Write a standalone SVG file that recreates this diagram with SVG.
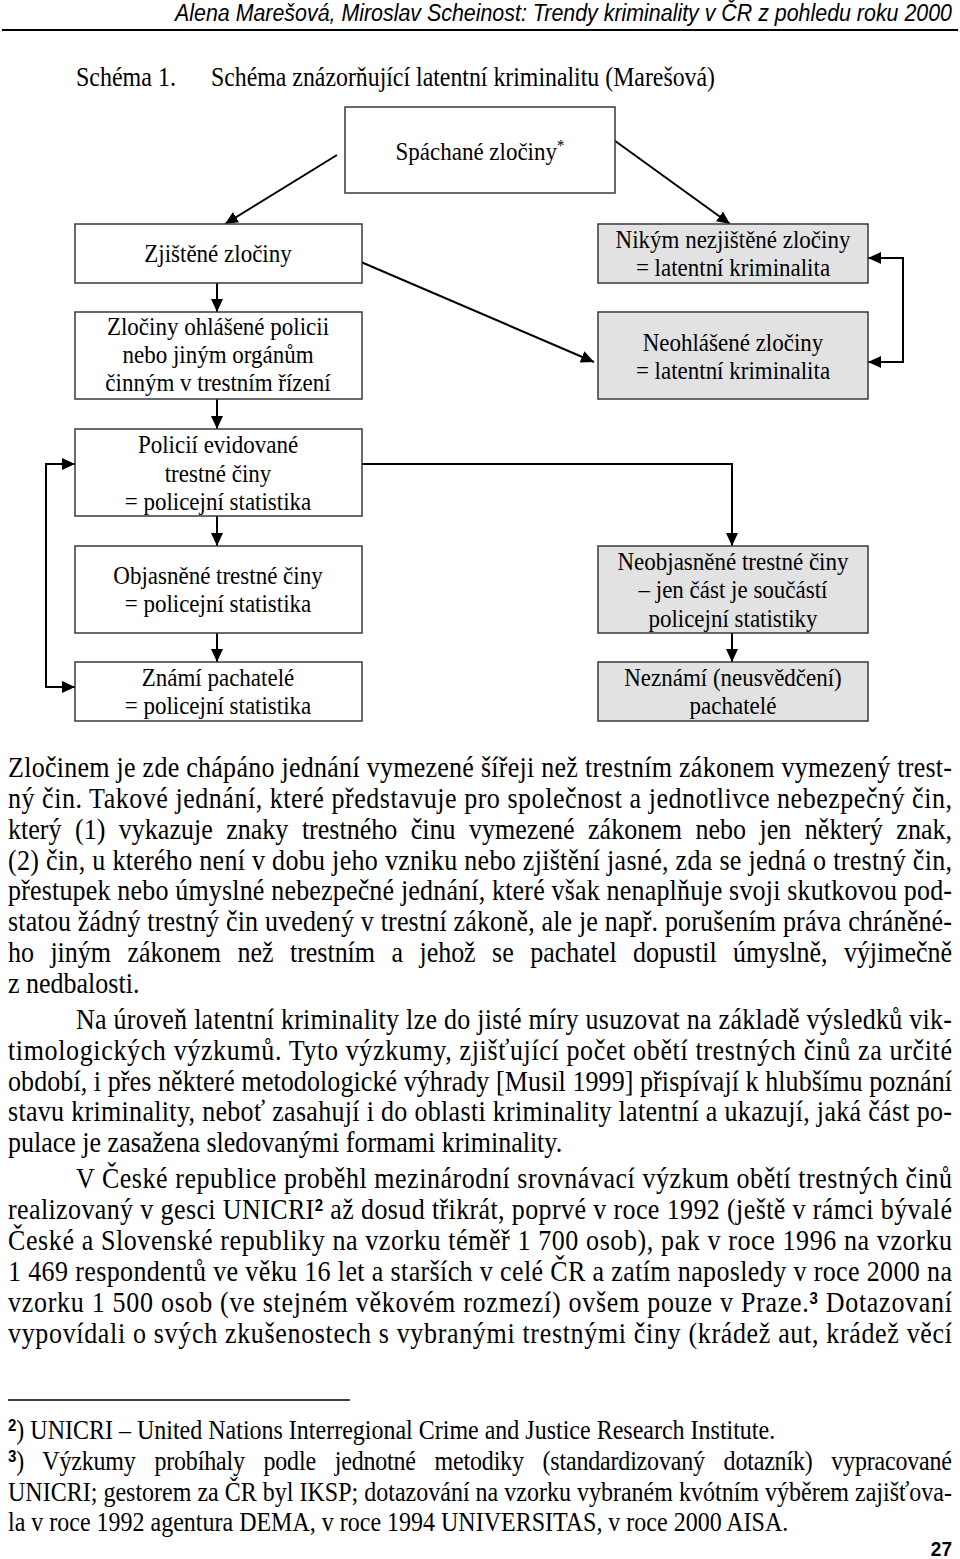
<svg xmlns="http://www.w3.org/2000/svg" width="960" height="1559" viewBox="0 0 960 1559">
<style>
text{font-family:"Liberation Serif","Times New Roman",serif;fill:#000}
.hdr{font-family:"Liberation Sans",Arial,sans-serif;font-style:italic;font-size:21px}
.ttl{font-size:24px}
.box{font-size:23px;text-anchor:middle}
.body{font-size:26px}
.fn{font-size:24px}
.sup{font-family:"Liberation Sans",Arial,sans-serif;font-weight:bold;font-size:15px}
.pg{font-family:"Liberation Sans",Arial,sans-serif;font-weight:bold;font-size:19px}
.nb rect{fill:#fff;stroke:#3a3a3a;stroke-width:1.5}
.ng rect{fill:#e2e2e2;stroke:#3a3a3a;stroke-width:1.5}
.conn path{fill:none;stroke:#000;stroke-width:2}
</style>
<defs>
<marker id="ah" viewBox="0 0 13 12" refX="13" refY="6" markerWidth="13" markerHeight="12" markerUnits="userSpaceOnUse" orient="auto-start-reverse">
<path d="M0,0 L13,6 L0,12 z" fill="#000"/>
</marker>
</defs>
<rect width="960" height="1559" fill="#fff"/>

<text class="hdr" x="175" y="0" transform="translate(0,21) scale(1,1.1)" textLength="777" lengthAdjust="spacingAndGlyphs">Alena Marešová, Miroslav Scheinost: Trendy kriminality v ČR z pohledu roku 2000</text>
<line x1="2" y1="30" x2="958" y2="30" stroke="#000" stroke-width="2"/>

<text class="ttl" x="76" y="0" transform="translate(0,86) scale(1,1.1)">Schéma 1.</text>
<text class="ttl" x="211" y="0" transform="translate(0,86) scale(1,1.1)" textLength="504" lengthAdjust="spacingAndGlyphs">Schéma znázorňující latentní kriminalitu (Marešová)</text>

<g class="conn">
<path d="M337,155 L225,224" marker-end="url(#ah)"/>
<path d="M611,138 L730,224" marker-end="url(#ah)"/>
<path d="M217,283 L217,312" marker-end="url(#ah)"/>
<path d="M354,259 L594,362" marker-end="url(#ah)"/>
<path d="M217,399 L217,429" marker-end="url(#ah)"/>
<path d="M217,516 L217,546" marker-end="url(#ah)"/>
<path d="M217,633 L217,662" marker-end="url(#ah)"/>
<path d="M75,464 L46,464 L46,687 L75,687" marker-start="url(#ah)" marker-end="url(#ah)"/>
<path d="M353,464 L732,464 L732,546" marker-end="url(#ah)"/>
<path d="M732,633 L732,662" marker-end="url(#ah)"/>
<path d="M868,258 L903,258 L903,362 L868,362" marker-start="url(#ah)" marker-end="url(#ah)"/>
</g>

<g id="n-spachane" class="nb">
<rect x="345" y="107" width="270" height="86"/>
<text class="box" x="480" y="0" transform="translate(0,160) scale(1,1.1)">Spáchané zločiny<tspan font-size="15" dy="-8">*</tspan></text>
</g>
<g id="n-zjistene" class="nb">
<rect x="75" y="224" width="287" height="59"/>
<text class="box" x="218" y="0" transform="translate(0,262) scale(1,1.1)">Zjištěné zločiny</text>
</g>
<g id="n-ohlasene" class="nb">
<rect x="75" y="312" width="287" height="87"/>
<text class="box" x="218" y="0" transform="translate(0,335) scale(1,1.1)">Zločiny ohlášené policii</text>
<text class="box" x="218" y="0" transform="translate(0,363) scale(1,1.1)">nebo jiným orgánům</text>
<text class="box" x="218" y="0" transform="translate(0,391) scale(1,1.1)">činným v trestním řízení</text>
</g>
<g id="n-evidovane" class="nb">
<rect x="75" y="429" width="287" height="87"/>
<text class="box" x="218" y="0" transform="translate(0,453) scale(1,1.1)">Policií evidované</text>
<text class="box" x="218" y="0" transform="translate(0,482) scale(1,1.1)">trestné činy</text>
<text class="box" x="218" y="0" transform="translate(0,510) scale(1,1.1)">= policejní statistika</text>
</g>
<g id="n-objasnene" class="nb">
<rect x="75" y="546" width="287" height="87"/>
<text class="box" x="218" y="0" transform="translate(0,584) scale(1,1.1)">Objasněné trestné činy</text>
<text class="box" x="218" y="0" transform="translate(0,612) scale(1,1.1)">= policejní statistika</text>
</g>
<g id="n-znami" class="nb">
<rect x="75" y="662" width="287" height="59"/>
<text class="box" x="218" y="0" transform="translate(0,686) scale(1,1.1)">Známí pachatelé</text>
<text class="box" x="218" y="0" transform="translate(0,714) scale(1,1.1)">= policejní statistika</text>
</g>
<g id="n-nikym" class="ng">
<rect x="598" y="224" width="270" height="59"/>
<text class="box" x="733" y="0" transform="translate(0,248) scale(1,1.1)">Nikým nezjištěné zločiny</text>
<text class="box" x="733" y="0" transform="translate(0,276) scale(1,1.1)">= latentní kriminalita</text>
</g>
<g id="n-neohlasene" class="ng">
<rect x="598" y="312" width="270" height="87"/>
<text class="box" x="733" y="0" transform="translate(0,351) scale(1,1.1)">Neohlášené zločiny</text>
<text class="box" x="733" y="0" transform="translate(0,379) scale(1,1.1)">= latentní kriminalita</text>
</g>
<g id="n-neobjasnene" class="ng">
<rect x="598" y="546" width="270" height="87"/>
<text class="box" x="733" y="0" transform="translate(0,570) scale(1,1.1)">Neobjasněné trestné činy</text>
<text class="box" x="733" y="0" transform="translate(0,598) scale(1,1.1)">– jen část je součástí</text>
<text class="box" x="733" y="0" transform="translate(0,627) scale(1,1.1)">policejní statistiky</text>
</g>
<g id="n-neznami" class="ng">
<rect x="598" y="662" width="270" height="59"/>
<text class="box" x="733" y="0" transform="translate(0,686) scale(1,1.1)">Neznámí (neusvědčení)</text>
<text class="box" x="733" y="0" transform="translate(0,714) scale(1,1.1)">pachatelé</text>
</g>

<g id="body">
<text class="body" x="8" y="0" transform="translate(0,777) scale(1,1.1)" textLength="944" lengthAdjust="spacing">Zločinem je zde chápáno jednání vymezené šířeji než trestním zákonem vymezený trest-</text>
<text class="body" x="8" y="0" transform="translate(0,808) scale(1,1.1)" textLength="944" lengthAdjust="spacing">ný čin. Takové jednání, které představuje pro společnost a jednotlivce nebezpečný čin,</text>
<text class="body" x="8" y="0" transform="translate(0,839) scale(1,1.1)" textLength="944" lengthAdjust="spacing" word-spacing="7">který (1) vykazuje znaky trestného činu vymezené zákonem nebo jen některý znak,</text>
<text class="body" x="8" y="0" transform="translate(0,870) scale(1,1.1)" textLength="944" lengthAdjust="spacing">(2) čin, u kterého není v dobu jeho vzniku nebo zjištění jasné, zda se jedná o trestný čin,</text>
<text class="body" x="8" y="0" transform="translate(0,900) scale(1,1.1)" textLength="944" lengthAdjust="spacing">přestupek nebo úmyslné nebezpečné jednání, které však nenaplňuje svoji skutkovou pod-</text>
<text class="body" x="8" y="0" transform="translate(0,931) scale(1,1.1)" textLength="944" lengthAdjust="spacing">statou žádný trestný čin uvedený v trestní zákoně, ale je např. porušením práva chráněné-</text>
<text class="body" x="8" y="0" transform="translate(0,962) scale(1,1.1)" textLength="944" lengthAdjust="spacing" word-spacing="10">ho jiným zákonem než trestním a jehož se pachatel dopustil úmyslně, výjimečně</text>
<text class="body" x="8" y="0" transform="translate(0,993) scale(1,1.1)">z nedbalosti.</text>

<text class="body" x="76" y="0" transform="translate(0,1029) scale(1,1.1)" textLength="876" lengthAdjust="spacing">Na úroveň latentní kriminality lze do jisté míry usuzovat na základě výsledků vik-</text>
<text class="body" x="8" y="0" transform="translate(0,1060) scale(1,1.1)" textLength="944" lengthAdjust="spacing">timologických výzkumů. Tyto výzkumy, zjišťující počet obětí trestných činů za určité</text>
<text class="body" x="8" y="0" transform="translate(0,1091) scale(1,1.1)" textLength="944" lengthAdjust="spacing">období, i přes některé metodologické výhrady [Musil 1999] přispívají k hlubšímu poznání</text>
<text class="body" x="8" y="0" transform="translate(0,1121) scale(1,1.1)" textLength="944" lengthAdjust="spacing">stavu kriminality, neboť zasahují i do oblasti kriminality latentní a ukazují, jaká část po-</text>
<text class="body" x="8" y="0" transform="translate(0,1152) scale(1,1.1)">pulace je zasažena sledovanými formami kriminality.</text>

<text class="body" x="76" y="0" transform="translate(0,1188) scale(1,1.1)" textLength="876" lengthAdjust="spacing">V České republice proběhl mezinárodní srovnávací výzkum obětí trestných činů</text>
<text class="body" x="8" y="0" transform="translate(0,1219) scale(1,1.1)" textLength="944" lengthAdjust="spacing">realizovaný v gesci UNICRI<tspan class="sup" dy="-7">2</tspan><tspan dy="7"> až dosud třikrát, poprvé v roce 1992 (ještě v rámci bývalé</tspan></text>
<text class="body" x="8" y="0" transform="translate(0,1250) scale(1,1.1)" textLength="944" lengthAdjust="spacing">České a Slovenské republiky na vzorku téměř 1 700 osob), pak v roce 1996 na vzorku</text>
<text class="body" x="8" y="0" transform="translate(0,1281) scale(1,1.1)" textLength="944" lengthAdjust="spacing">1 469 respondentů ve věku 16 let a starších v celé ČR a zatím naposledy v roce 2000 na</text>
<text class="body" x="8" y="0" transform="translate(0,1312) scale(1,1.1)" textLength="944" lengthAdjust="spacing">vzorku 1 500 osob (ve stejném věkovém rozmezí) ovšem pouze v Praze.<tspan class="sup" dy="-7">3</tspan><tspan dy="7"> Dotazovaní</tspan></text>
<text class="body" x="8" y="0" transform="translate(0,1343) scale(1,1.1)" textLength="944" lengthAdjust="spacing">vypovídali o svých zkušenostech s vybranými trestnými činy (krádež aut, krádež věcí</text>
</g>

<line x1="8" y1="1400" x2="350" y2="1400" stroke="#000" stroke-width="1.5"/>

<g id="footnotes">
<text class="fn" x="8" y="0" transform="translate(0,1439) scale(1,1.1)"><tspan class="sup" dy="-7">2</tspan><tspan dy="7">) UNICRI – United Nations Interregional Crime and Justice Research Institute.</tspan></text>
<text class="fn" x="8" y="0" transform="translate(0,1470) scale(1,1.1)" textLength="944" lengthAdjust="spacing" word-spacing="13"><tspan class="sup" dy="-7">3</tspan><tspan dy="7">) Výzkumy probíhaly podle jednotné metodiky (standardizovaný dotazník) vypracované</tspan></text>
<text class="fn" x="8" y="0" transform="translate(0,1501) scale(1,1.1)" textLength="944" lengthAdjust="spacing">UNICRI; gestorem za ČR byl IKSP; dotazování na vzorku vybraném kvótním výběrem zajišťova-</text>
<text class="fn" x="8" y="0" transform="translate(0,1531) scale(1,1.1)">la v roce 1992 agentura DEMA, v roce 1994 UNIVERSITAS, v roce 2000 AISA.</text>
</g>

<text class="pg" x="952" y="0" transform="translate(0,1556) scale(1,1.1)" text-anchor="end">27</text>
</svg>
